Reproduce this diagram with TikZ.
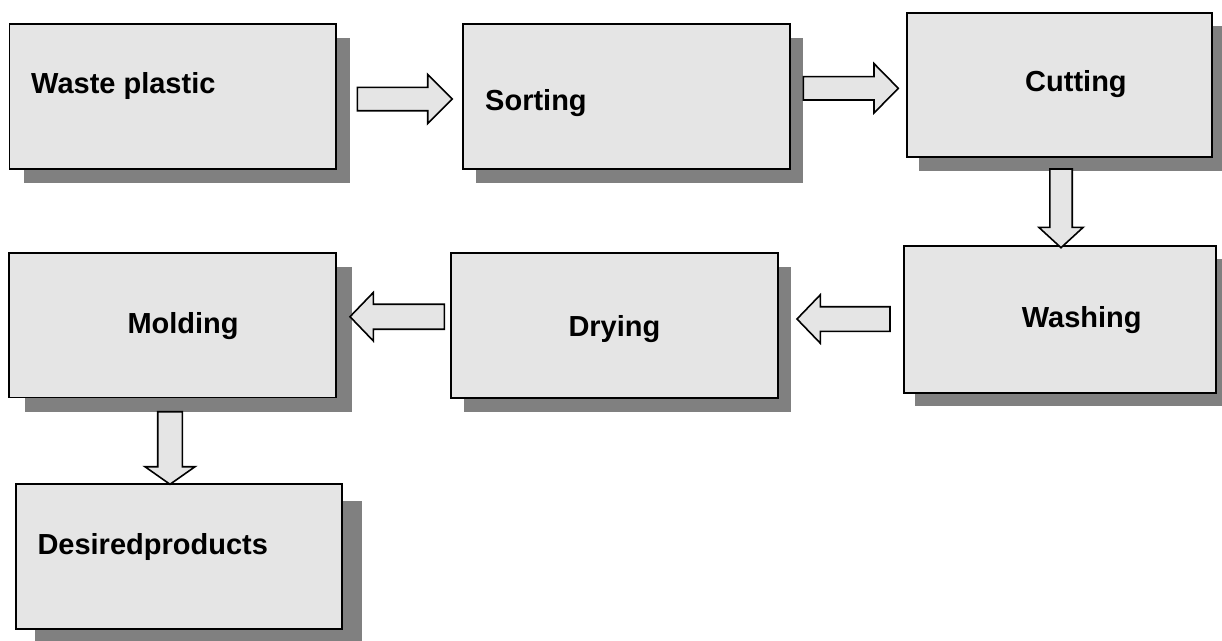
\documentclass[tikz,border=0pt]{standalone}
\usepackage{fontspec}
\setmainfont{Liberation Sans}
\usetikzlibrary{calc,shadows}
\definecolor{boxfill}{RGB}{229,229,229}
\definecolor{shadecol}{RGB}{128,128,128}
\tikzset{
  box/.style 2 args={draw=black, line width=1.8pt, fill=boxfill, inner sep=0pt, outer sep=0pt,
    anchor=north west,
    drop shadow={shadow xshift=#1pt, shadow yshift=-#2pt, fill=shadecol, draw=none, opacity=1}},
  lbl/.style={anchor=base west, inner sep=0pt, font=\bfseries\fontsize{29}{34}\selectfont},
  barrowstyle/.style={draw=black, line width=1.6pt, fill=boxfill, line join=miter},
}
% #1 start, #2 tip, #3 shaft half width, #4 head half width, #5 head length, #6 name
\newcommand{\blockarrow}[6]{%
  \coordinate (#6h) at ($(#2)!#5pt!(#1)$);
  \draw[barrowstyle] ($(#1)!#3pt!90:(#2)$) -- ($(#6h)!#3pt!90:(#2)$) -- ($(#6h)!#4pt!90:(#2)$)
    -- (#2) -- ($(#6h)!#4pt!-90:(#2)$) -- ($(#6h)!#3pt!-90:(#2)$) -- ($(#1)!#3pt!-90:(#2)$) -- cycle;
}
\begin{document}
\begin{tikzpicture}[x=1pt,y=-1pt]
\useasboundingbox[fill=white] (0,0) rectangle (1222,640);

% boxes
\node[box={14}{14}, minimum width=326.5pt, minimum height=145.3pt] (b1) at (9.5,24) {};
\node[box={13}{13.5}, minimum width=327.3pt, minimum height=145.3pt] (b2) at (462.7,24) {};
\node[box={12}{13.4}, minimum width=305pt, minimum height=144.6pt] (b3) at (906.7,12.7) {};
\node[box={11}{13}, minimum width=311.7pt, minimum height=146.7pt] (b4) at (904,246) {};
\node[box={13}{13.7}, minimum width=327pt, minimum height=145pt] (b5) at (450.7,253.3) {};
\node[box={15.7}{14.5}, minimum width=326.7pt, minimum height=144.8pt] (b6) at (9.3,252.7) {};
\node[box={19.4}{16.7}, minimum width=326.3pt, minimum height=145pt] (b7) at (16,484.3) {};

% labels
\node[lbl] (t1) at (31,93) {Waste plastic};
\node[lbl] (t2) at (485,110.5) {Sorting};
\node[lbl] (t3) at (1025,91.7) {Cutting};
\node[lbl] (t4) at (1021.7,327) {Washing};
\node[lbl] (t5) at (568.3,336) {Drying};
\node[lbl] (t6) at (127.3,333.3) {Molding};
\node[lbl] (t7) at (37.3,554) {Desiredproducts};

% arrow end points
\coordinate (a1s) at (357.3,99);   \coordinate (a1t) at (452.3,99);
\coordinate (a2s) at (803.3,88.3); \coordinate (a2t) at (898.3,88.3);
\coordinate (a3s) at (1061,169);   \coordinate (a3t) at (1061,247.7);
\coordinate (a4s) at (890,319);    \coordinate (a4t) at (797,319);
\coordinate (a5s) at (444.3,316.7);\coordinate (a5t) at (350,316.7);
\coordinate (a6s) at (170,411.7);  \coordinate (a6t) at (170,484.3);

\blockarrow{a1s}{a1t}{11.7}{24.6}{24.6}{a1}
\blockarrow{a2s}{a2t}{11.7}{24.7}{24.3}{a2}
\blockarrow{a3s}{a3t}{11.2}{22.2}{20.4}{a3}
\blockarrow{a4s}{a4t}{12.3}{24.2}{23.3}{a4}
\blockarrow{a5s}{a5t}{12.5}{24.2}{23.3}{a5}
\blockarrow{a6s}{a6t}{12.3}{25}{17.6}{a6}
\end{tikzpicture}
\end{document}
